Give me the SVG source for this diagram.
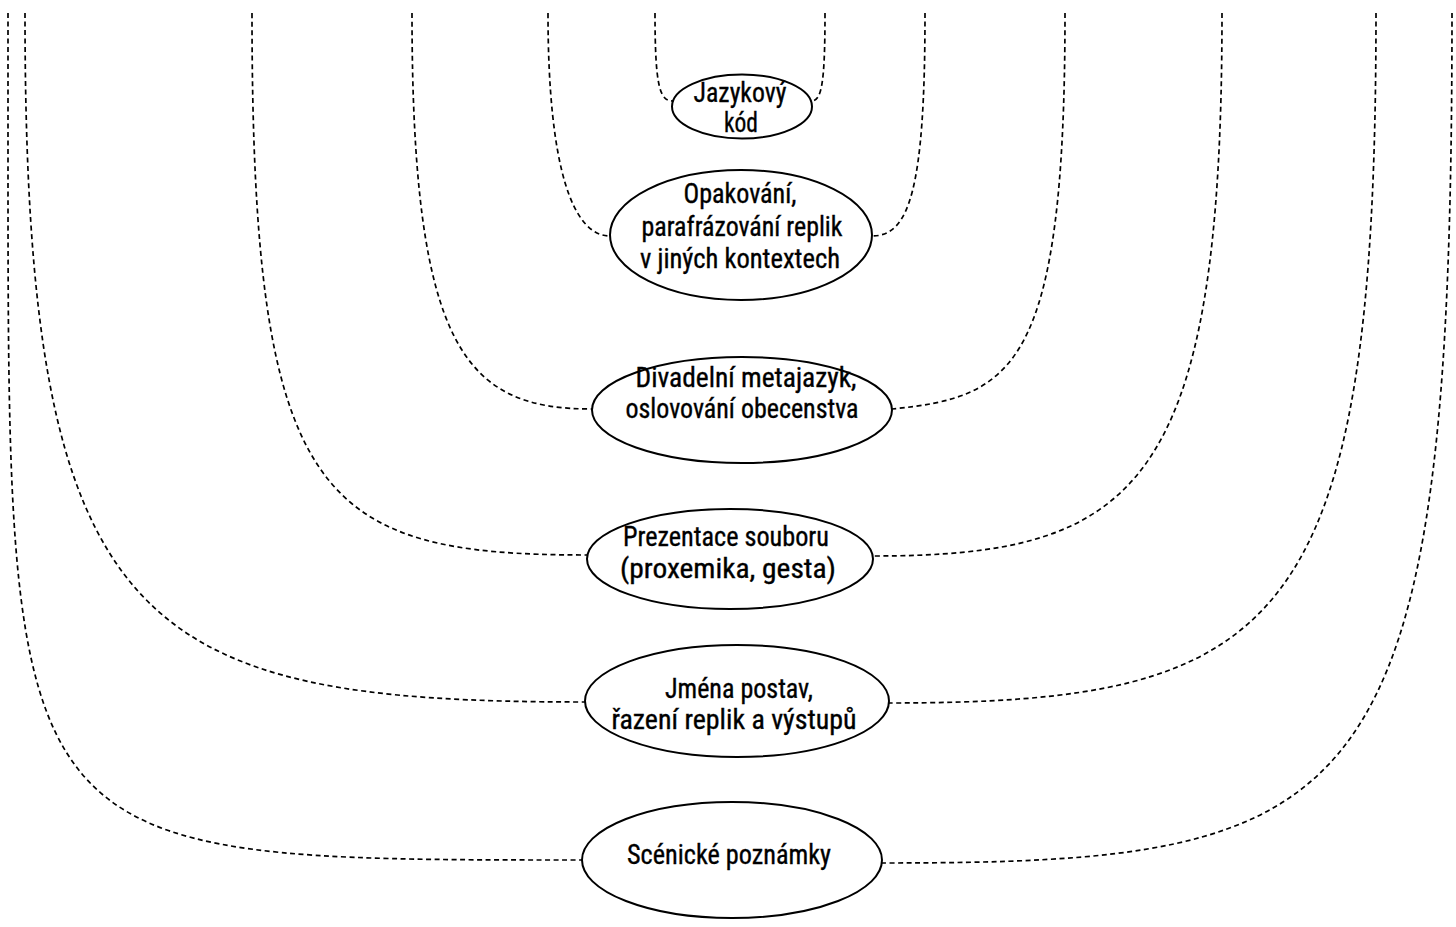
<svg xmlns="http://www.w3.org/2000/svg" width="1456" height="927" viewBox="0 0 1456 927">
<style>
.bg{fill:#ffffff}
.node ellipse{fill:#ffffff;stroke:#000000;stroke-width:2}
.node text{font-family:"Liberation Sans Narrow","Roboto Condensed",Roboto,"Liberation Sans",Arial,sans-serif;font-size:27px;fill:#000000;stroke:#000000;stroke-width:0.35;text-anchor:middle}
.conn path{fill:none;stroke:#000000;stroke-width:1.7;stroke-dasharray:5 3.5}
</style>
<rect class="bg" x="0" y="0" width="1456" height="927"/>
<g id="connectors" class="conn">
<path d="M655,13 C655,88 660,101 673,101"/>
<path d="M825,13 C825,88 821,101 811,101"/>
<path d="M548,13 C548,169 573,236 610,236"/>
<path d="M925,13 C925,191 909,236 872,236"/>
<path d="M412,13 C412,350 466,409 592,409"/>
<path d="M1065,13 C1065,369 1013,397 892,409"/>
<path d="M252,13 C252,501 319,555 587,555"/>
<path d="M1222,13 C1222,491 1135,556 873,556"/>
<path d="M25,13 C25,633 137,702 585,702"/>
<path d="M1376,13 C1376,634 1279,703 889,703"/>
<path d="M8,13 L8,150 C8,860 8,860 582,860"/>
<path d="M1452,13 C1452,820 1366,863 882,863"/>
</g>
<g id="n1" class="node">
<ellipse cx="742" cy="106.5" rx="70" ry="32"/>
<text x="740" y="102" textLength="93" lengthAdjust="spacingAndGlyphs">Jazykový</text>
<text x="741" y="132" textLength="34" lengthAdjust="spacingAndGlyphs">kód</text>
</g>
<g id="n2" class="node">
<ellipse cx="741" cy="235" rx="131" ry="65"/>
<text x="740" y="203" textLength="113" lengthAdjust="spacingAndGlyphs">Opakování,</text>
<text x="742" y="236" textLength="201" lengthAdjust="spacingAndGlyphs">parafrázování replik</text>
<text x="740" y="268" textLength="200" lengthAdjust="spacingAndGlyphs">v jiných kontextech</text>
</g>
<g id="n3" class="node">
<ellipse cx="742" cy="410" rx="150" ry="53"/>
<text x="746" y="387" textLength="221" lengthAdjust="spacingAndGlyphs">Divadelní metajazyk,</text>
<text x="742" y="418" textLength="233" lengthAdjust="spacingAndGlyphs">oslovování obecenstva</text>
</g>
<g id="n4" class="node">
<ellipse cx="730" cy="559" rx="143" ry="50"/>
<text x="726" y="546" textLength="206" lengthAdjust="spacingAndGlyphs">Prezentace souboru</text>
<text x="728" y="578" textLength="216" lengthAdjust="spacingAndGlyphs">(proxemika, gesta)</text>
</g>
<g id="n5" class="node">
<ellipse cx="737" cy="701" rx="152" ry="56"/>
<text x="739" y="698" textLength="148" lengthAdjust="spacingAndGlyphs">Jména postav,</text>
<text x="734" y="729" textLength="245" lengthAdjust="spacingAndGlyphs">řazení replik a výstupů</text>
</g>
<g id="n6" class="node">
<ellipse cx="732" cy="860" rx="150" ry="58"/>
<text x="729" y="864" textLength="204" lengthAdjust="spacingAndGlyphs">Scénické poznámky</text>
</g>
</svg>
